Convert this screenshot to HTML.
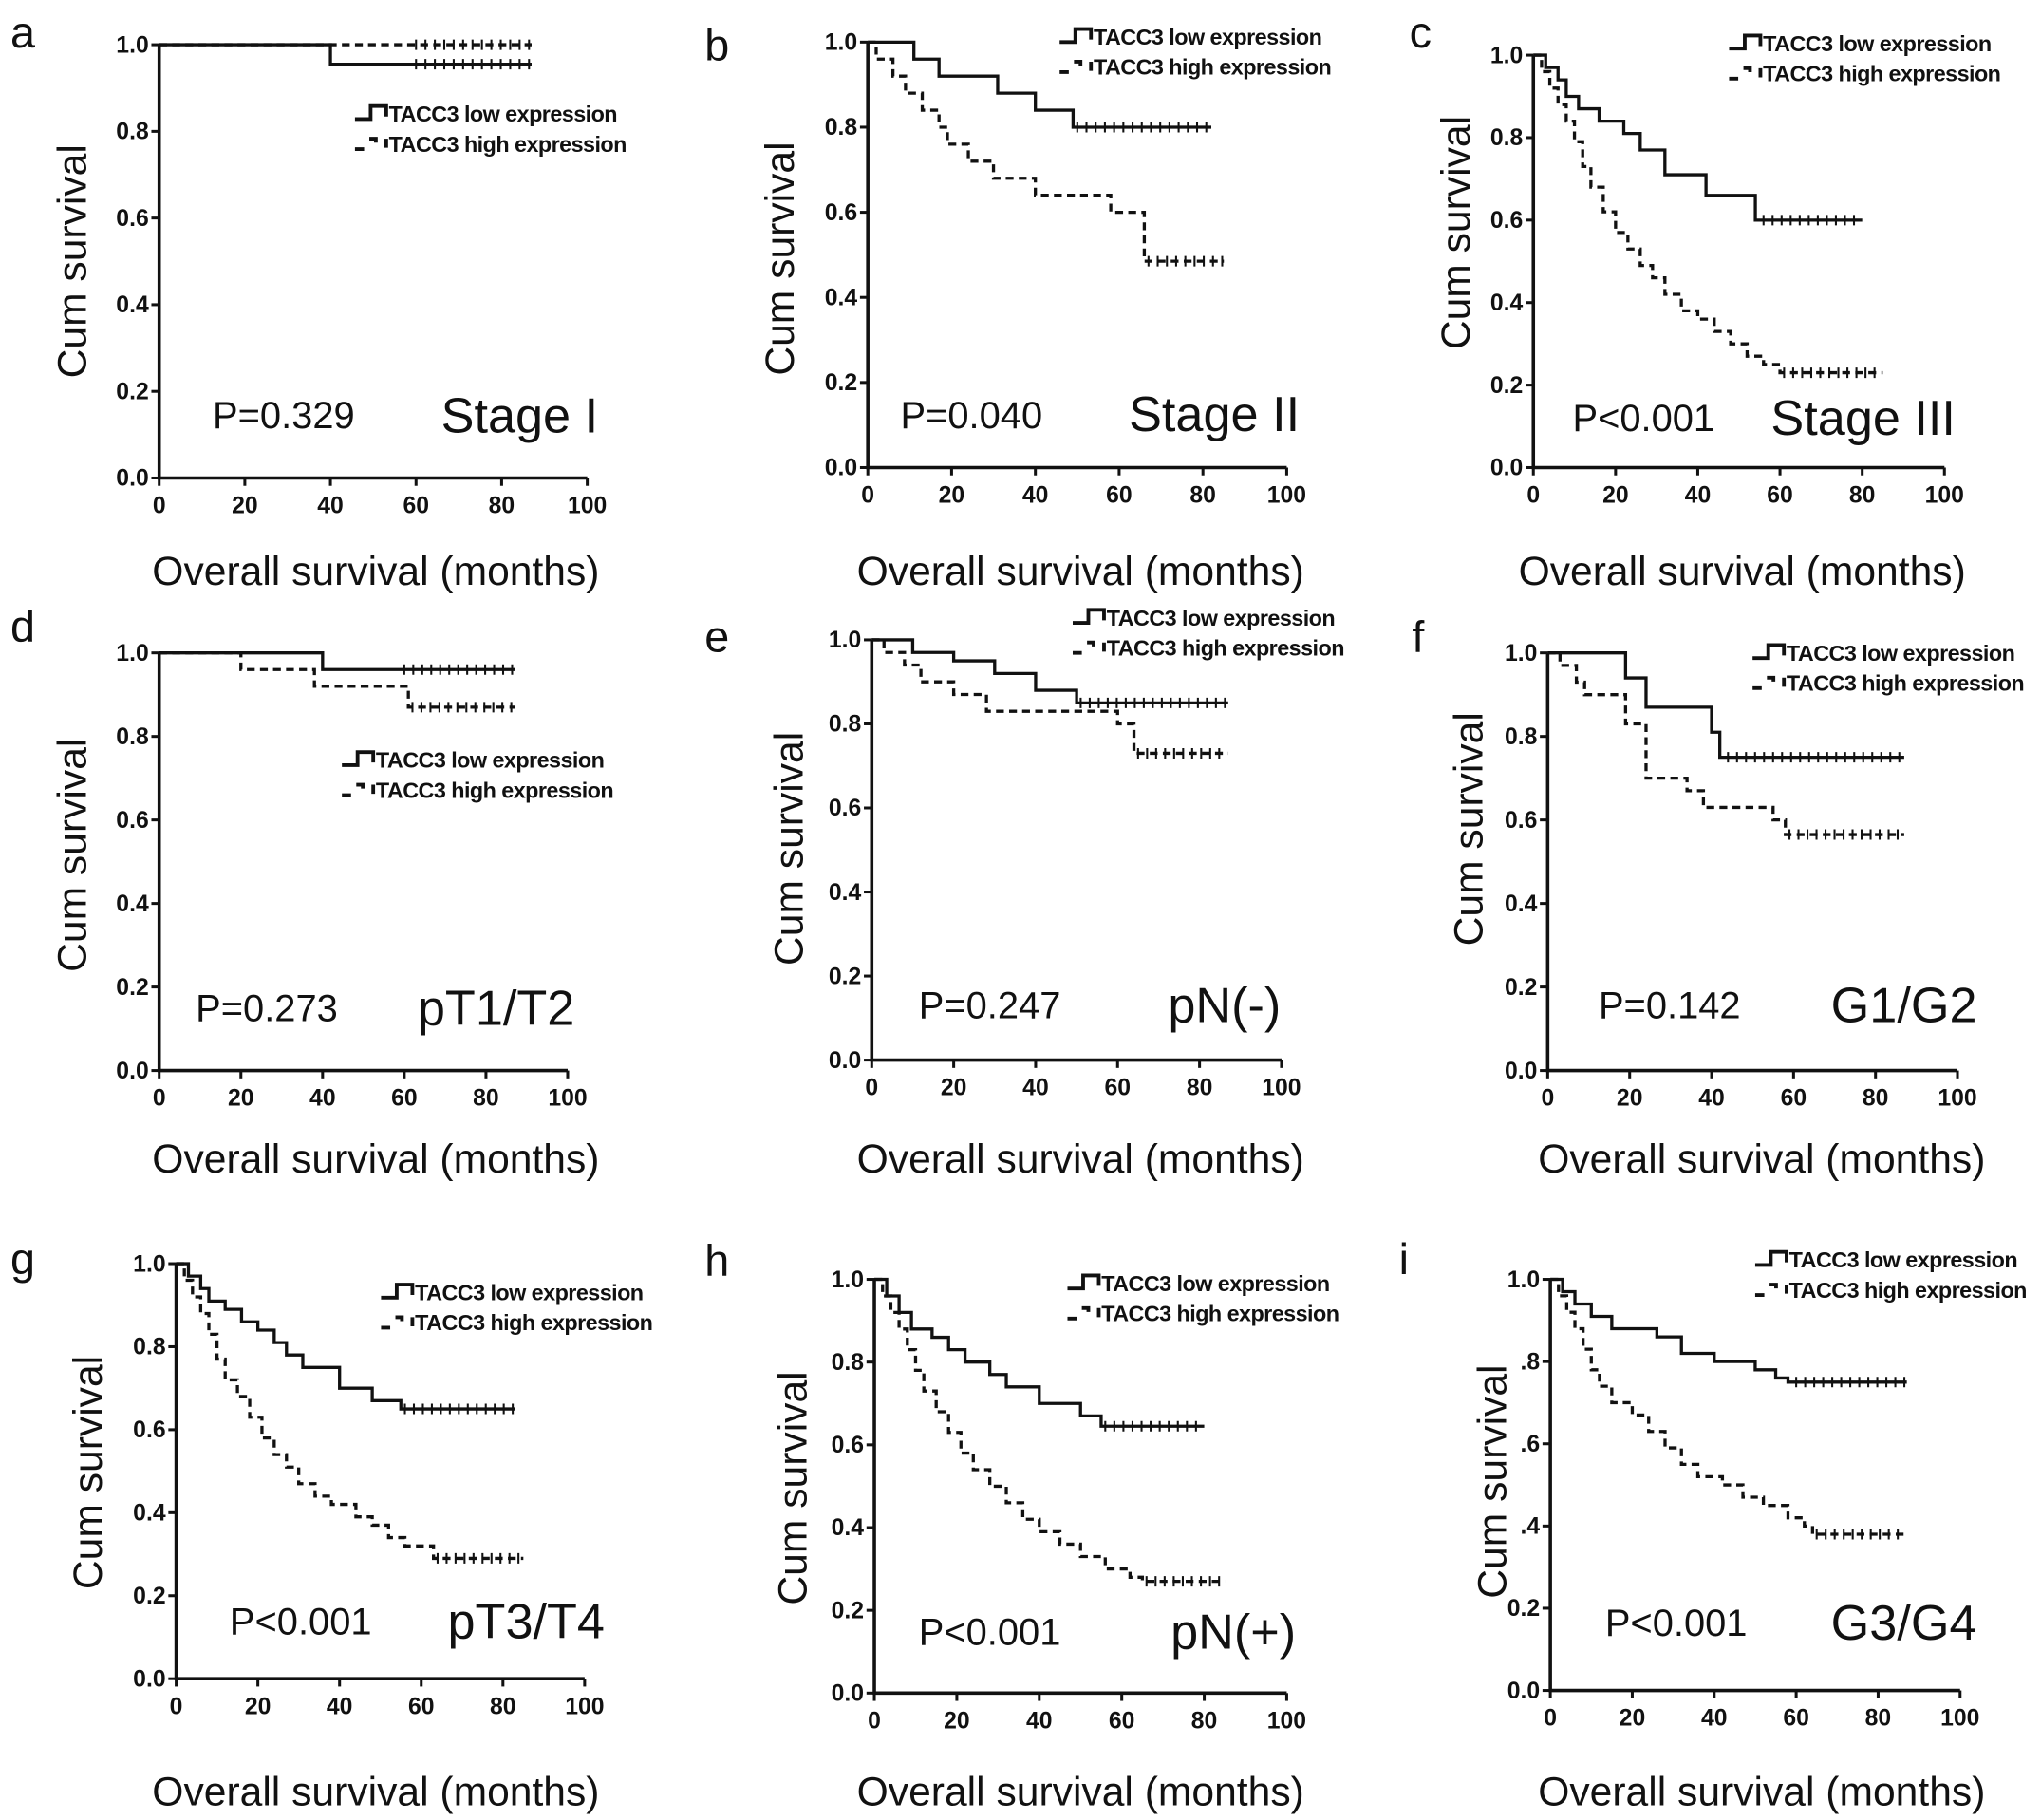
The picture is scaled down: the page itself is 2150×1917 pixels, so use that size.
<!DOCTYPE html>
<html><head><meta charset="utf-8"><style>
html,body{margin:0;padding:0;background:#fff}
svg{display:block}
text{font-family:"Liberation Sans",Arial,sans-serif;fill:#111}
.tk{font-weight:bold;font-size:18px}
.lg{font-weight:bold;font-size:17px;letter-spacing:-0.4px}
.ax{font-size:31px}
.pv{font-size:29px}
.st{font-size:38px}
.pl{font-size:34px}
</style></head><body>
<svg id="fig" width="2150" height="1917" viewBox="0 0 1564 1394" xmlns="http://www.w3.org/2000/svg"></svg>
<script>
const panelLetters=["a","b","c","d","e","f","g","h","i"];
const pValues=["P=0.329","P=0.040","P<0.001","P=0.273","P=0.247","P=0.142","P<0.001","P<0.001","P<0.001"];
const stageLabels=["Stage I","Stage II","Stage III","pT1/T2","pN(-)","G1/G2","pT3/T4","pN(+)","G3/G4"];
const xTicks=[0,20,40,60,80,100];
const yTicks=[0,0.2,0.4,0.6,0.8,1.0];
const yTickLabels=["0.0","0.2","0.4","0.6","0.8","1.0"];
const yTickLabelsI=["0.0","0.2",".4",".6",".8","1.0"];
const lowA=[[0,1],[40,0.955],[87,0.955]];
const highA=[[0,1],[87,1]];
const lowB=[[0,1],[11,0.96],[17,0.92],[31,0.88],[40,0.84],[49,0.80],[82,0.80]];
const highB=[[0,1],[2,0.96],[6,0.92],[9,0.88],[13,0.84],[17,0.80],[19,0.76],[24,0.72],[30,0.68],[40,0.64],[58,0.60],[66,0.485],[85,0.485]];
const lowC=[[0,1],[3,0.97],[6,0.94],[8,0.90],[11,0.87],[16,0.84],[22,0.81],[26,0.77],[32,0.71],[42,0.66],[54,0.60],[80,0.60]];
const highC=[[0,1],[2,0.96],[4,0.92],[6,0.88],[8,0.84],[10,0.79],[12,0.73],[14,0.68],[17,0.62],[20,0.57],[23,0.53],[26,0.49],[29,0.46],[32,0.42],[36,0.38],[40,0.36],[44,0.33],[48,0.30],[52,0.27],[56,0.25],[60,0.23],[85,0.23]];
const lowD=[[0,1],[40,0.96],[87,0.96]];
const highD=[[0,1],[20,0.96],[38,0.92],[61,0.87],[87,0.87]];
const lowE=[[0,1],[10,0.97],[20,0.95],[30,0.92],[40,0.88],[50,0.85],[87,0.85]];
const highE=[[0,1],[3,0.97],[8,0.94],[12,0.90],[20,0.87],[28,0.83],[60,0.80],[64,0.73],[87,0.73]];
const lowF=[[0,1],[19,0.94],[24,0.87],[40,0.81],[42,0.75],[87,0.75]];
const highF=[[0,1],[3,0.97],[7,0.93],[9,0.90],[19,0.83],[24,0.70],[34,0.67],[38,0.63],[55,0.60],[58,0.565],[87,0.565]];
const lowG=[[0,1],[3,0.97],[6,0.94],[8,0.91],[12,0.89],[16,0.86],[20,0.84],[24,0.81],[27,0.78],[31,0.75],[40,0.70],[48,0.67],[55,0.65],[83,0.65]];
const highG=[[0,1],[2,0.96],[4,0.92],[6,0.88],[8,0.83],[10,0.77],[12,0.72],[15,0.68],[18,0.63],[21,0.58],[24,0.54],[27,0.51],[30,0.47],[34,0.44],[38,0.42],[44,0.39],[48,0.37],[52,0.34],[56,0.32],[63,0.29],[85,0.29]];
const lowH=[[0,1],[3,0.96],[6,0.92],[9,0.88],[14,0.86],[18,0.83],[22,0.80],[28,0.77],[32,0.74],[40,0.70],[50,0.67],[55,0.645],[80,0.645]];
const highH=[[0,1],[2,0.96],[4,0.92],[6,0.88],[8,0.83],[10,0.78],[12,0.73],[15,0.68],[18,0.63],[21,0.58],[24,0.54],[28,0.50],[32,0.46],[36,0.42],[40,0.39],[45,0.36],[50,0.33],[56,0.30],[62,0.28],[65,0.27],[85,0.27]];
const lowI=[[0,1],[3,0.97],[6,0.94],[10,0.91],[15,0.88],[26,0.86],[32,0.82],[40,0.80],[50,0.78],[55,0.76],[58,0.75],[87,0.75]];
const highI=[[0,1],[2,0.96],[4,0.92],[6,0.88],[8,0.83],[10,0.78],[12,0.74],[15,0.70],[20,0.67],[24,0.63],[28,0.59],[32,0.55],[36,0.52],[42,0.50],[47,0.47],[52,0.45],[58,0.42],[62,0.40],[64,0.38],[87,0.38]];
const lowSeries=[lowA,lowB,lowC,lowD,lowE,lowF,lowG,lowH,lowI];
const highSeries=[highA,highB,highC,highD,highE,highF,highG,highH,highI];
const censorStart=[60,50,56,60,50,44,56,56,60];

const L=[
 {ox:122,oy:366,x1:450,y1:34,lt:[8,25],lg:[272,87],p:[163,318],s:[338,318],yl:[55,200],xl:[288,437]},
 {ox:665,oy:358,x1:986,y1:32,lt:[540,35],lg:[812,28],p:[690,318],s:[865,317],yl:[597,198],xl:[828,437]},
 {ox:1175,oy:358,x1:1490,y1:42,lt:[1080,25],lg:[1325,33],p:[1205,320],s:[1357,320],yl:[1115,178],xl:[1335,437]},
 {ox:122,oy:820,x1:435,y1:500,lt:[8,480],lg:[262,582],p:[150,772],s:[320,772],yl:[55,655],xl:[288,887]},
 {ox:668,oy:812,x1:982,y1:490,lt:[540,488],lg:[822,473],p:[704,770],s:[895,770],yl:[604,650],xl:[828,887]},
 {ox:1186,oy:820,x1:1500,y1:500,lt:[1082,488],lg:[1343,500],p:[1225,770],s:[1403,770],yl:[1125,635],xl:[1350,887]},
 {ox:135,oy:1286,x1:448,y1:968,lt:[8,965],lg:[292,990],p:[176,1242],s:[343,1242],yl:[67,1128],xl:[288,1372]},
 {ox:670,oy:1297,x1:986,y1:980,lt:[540,966],lg:[818,983],p:[704,1250],s:[897,1250],yl:[607,1140],xl:[828,1372]},
 {ox:1188,oy:1295,x1:1502,y1:980,lt:[1072,965],lg:[1345,965],p:[1230,1243],s:[1403,1243],yl:[1143,1135],xl:[1350,1372]}
];
const NS="http://www.w3.org/2000/svg";
const svg=document.getElementById("fig");
function mk(tag,attrs,parent,txt){const e=document.createElementNS(NS,tag);for(const k in attrs)e.setAttribute(k,attrs[k]);if(txt!==undefined)e.textContent=txt;(parent||svg).appendChild(e);return e;}

L.forEach((g,i)=>{
 const grp=mk("g",{});
 
 
 const sx=t=>g.ox+(g.x1-g.ox)*t/100;
 const sy=v=>g.oy-(g.oy-g.y1)*v;
 const ax=mk("path",{d:`M${g.ox},${g.y1} V${g.oy} H${g.x1}`,fill:"none",stroke:"#111","stroke-width":2.6},grp);
 
 
 xTicks.forEach(t=>{
  mk("line",{x1:sx(t),x2:sx(t),y1:g.oy,y2:g.oy+6,stroke:"#111","stroke-width":2.2},grp);
  const tl=mk("text",{x:sx(t),y:g.oy+27,"text-anchor":"middle",class:"tk"},grp,t);
  
  
 });
 const ytl=i===8?yTickLabelsI:yTickLabels;
 yTicks.forEach((v,k)=>{
  mk("line",{x1:g.ox-6,x2:g.ox,y1:sy(v),y2:sy(v),stroke:"#111","stroke-width":2.2},grp);
  const tl=mk("text",{x:g.ox-8,y:sy(v)+6,"text-anchor":"end",class:"tk"},grp,ytl[k]);
  
  
 });
 [[lowSeries[i],null,"low"],[highSeries[i],"6,4","high"]].forEach(([pts,dash,nm])=>{
  let d=`M${sx(pts[0][0])},${sy(pts[0][1])}`;
  for(let k=1;k<pts.length;k++){d+=` H${sx(pts[k][0])} V${sy(pts[k][1])}`;}
  const a={d,fill:"none",stroke:"#111","stroke-width":2.4};
  if(dash)a["stroke-dasharray"]=dash;
  const p=mk("path",a,grp);
  
  
  const last=pts[pts.length-1];
  const cs=Math.max(censorStart[i],pts[pts.length-2][0]+1);
  let cd="";
  for(let t=cs;t<=last[0];t+=2.2){cd+=`M${sx(t)},${sy(last[1])-4} v8 `;}
  const c=mk("path",{d:cd,stroke:"#111","stroke-width":1.5},grp);
  
  
 });
 const [lx,ly]=g.lg;
 const le1=mk("g",{},grp);
 
 
 mk("path",{d:`M${lx},${ly+4} h12 v-10 h12 v8`,fill:"none",stroke:"#111","stroke-width":2.8},le1);
 mk("text",{x:lx+26,y:ly+6,class:"lg"},le1,"TACC3 low expression");
 const le2=mk("g",{},grp);
 
 
 mk("path",{d:`M${lx},${ly+27} h7 M${lx+11},${ly+19} h5 v3 M${lx+24},${ly+19} v7`,fill:"none",stroke:"#111","stroke-width":2.8},le2);
 mk("text",{x:lx+26,y:ly+29,class:"lg"},le2,"TACC3 high expression");
 const pl=mk("text",{x:g.lt[0],y:g.lt[1]+11,class:"pl"},grp,panelLetters[i]);
 
 
 const pv=mk("text",{x:g.p[0],y:g.p[1]+10,class:"pv"},grp,pValues[i]);
 
 
 const st=mk("text",{x:g.s[0],y:g.s[1]+13,class:"st"},grp,stageLabels[i]);
 
 
 const yl=mk("text",{x:g.yl[0],y:g.yl[1],class:"ax","text-anchor":"middle",transform:`rotate(-90 ${g.yl[0]} ${g.yl[1]})`,dy:"11"},grp,"Cum survival");
 
 
 const xl=mk("text",{x:g.xl[0],y:g.xl[1]+11,class:"ax","text-anchor":"middle"},grp,"Overall survival (months)");
 
 
});
</script>
</body></html>
